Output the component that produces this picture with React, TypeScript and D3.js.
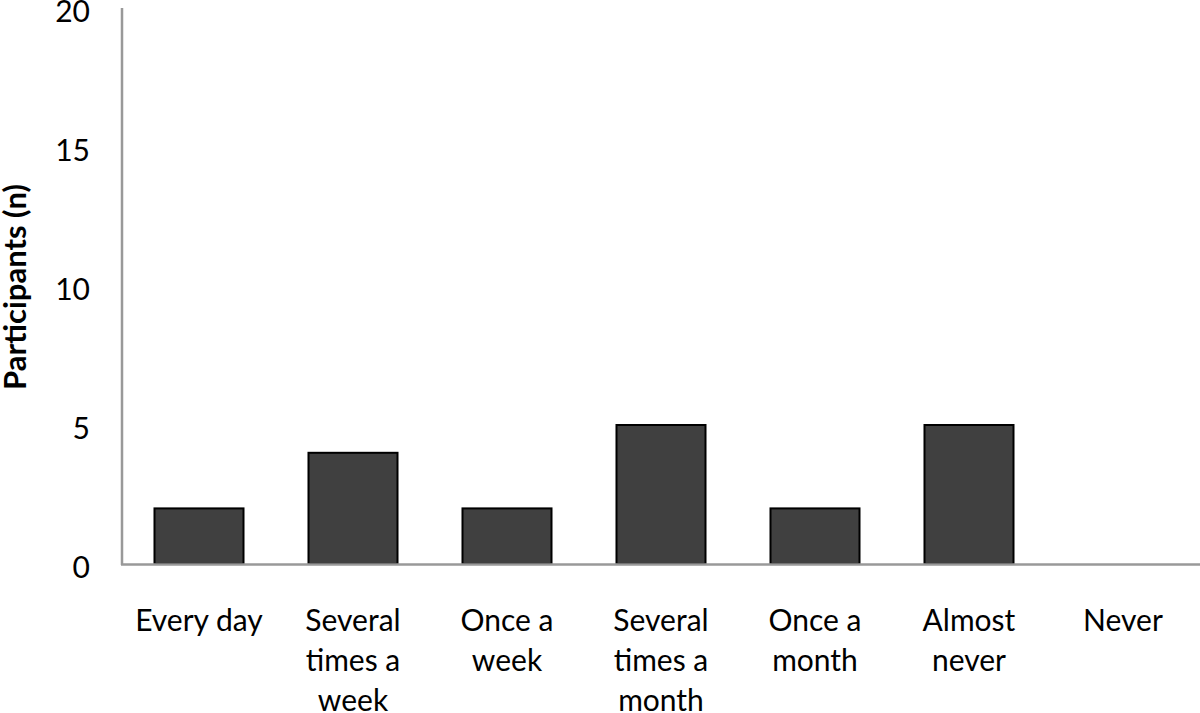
import React from "react";
import * as d3 from "d3";

const categories: string[][] = [
  ["Every day"],
  ["Several", "times a", "week"],
  ["Once a", "week"],
  ["Several", "times a", "month"],
  ["Once a", "month"],
  ["Almost", "never"],
  ["Never"],
];
const values: number[] = [2, 4, 2, 5, 2, 5, 0];
const yTicks: number[] = [0, 5, 10, 15, 20];
const yLabel = "Participants (n)";

const W = 1200;
const H = 713;
const FONT = "Lato, 'Open Sans', sans-serif";

export default function App() {
  const x = d3
    .scaleBand<number>()
    .domain(values.map((_, i) => i))
    .range([122, 1200])
    .paddingInner(0.422)
    .paddingOuter(0.211);
  const y = d3.scaleLinear().domain([0, 20]).range([564, 8]);

  return (
    <svg
      width={W}
      height={H}
      style={{ position: "absolute", left: 0, top: 0, background: "#fff" }}
      fontFamily={FONT}
    >
      {values.map((v, i) =>
        v > 0 ? (
          <rect
            key={i}
            x={x(i)!}
            y={y(v)}
            width={x.bandwidth()}
            height={y(0) - y(v)}
            fill="#404040"
            stroke="#000"
            strokeWidth={2}
          />
        ) : null
      )}
      <line x1={122} x2={122} y1={8} y2={565} stroke="#999" strokeWidth={2.5} />
      <line x1={121} x2={1200} y1={564.5} y2={564.5} stroke="#999" strokeWidth={2.5} />
      {yTicks.map((t) => (
        <text
          key={t}
          x={90}
          y={y(t) + 13.5}
          textAnchor="end"
          fontSize={30}
          fill="#000"
        >
          {t}
        </text>
      ))}
      {categories.map((lines, i) => (
        <text
          key={i}
          x={x(i)! + x.bandwidth() / 2}
          textAnchor="middle"
          fontSize={30}
          fill="#000"
        >
          {lines.map((l, j) => (
            <tspan key={j} x={x(i)! + x.bandwidth() / 2} y={631 + j * 40}>
              {l}
            </tspan>
          ))}
        </text>
      ))}
      <text
        transform={`translate(15,287) rotate(-90)`}
        textAnchor="middle"
        dy="0.35em"
        fontSize={31}
        fontWeight="bold"
        fill="#000"
      >
        {yLabel}
      </text>
    </svg>
  );
}
